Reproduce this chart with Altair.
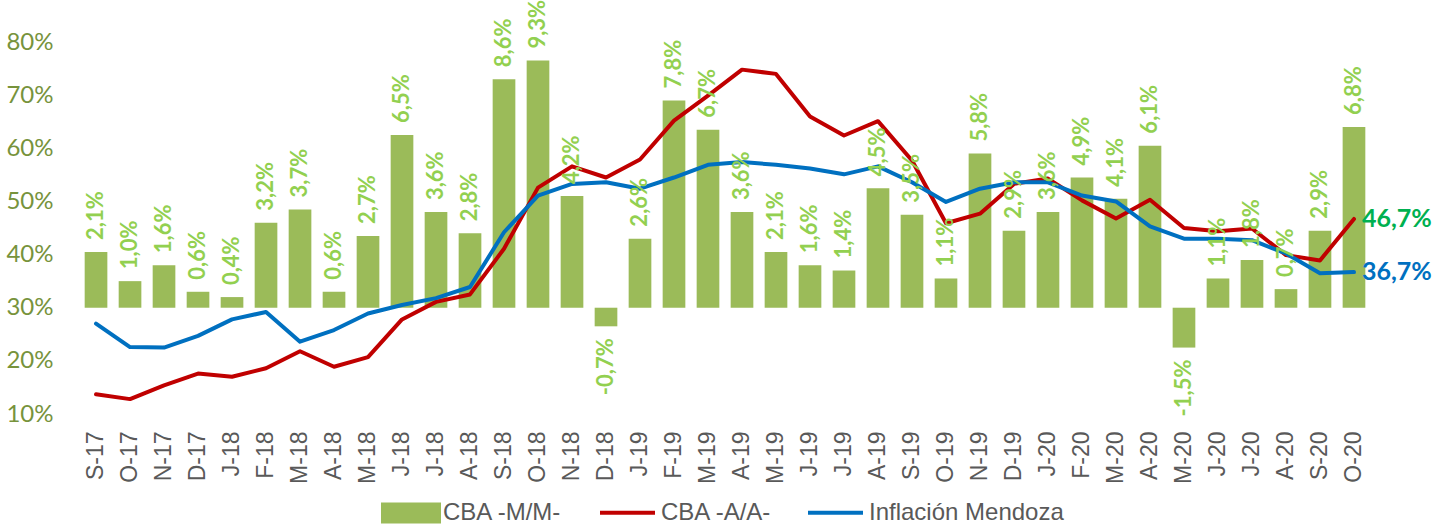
import altair as alt
import pandas as pd

cats = ['S-17','O-17','N-17','D-17','J-18','F-18','M-18','A-18','M-18','J-18','J-18','A-18',
        'S-18','O-18','N-18','D-18','J-19','F-19','M-19','A-19','M-19','J-19','J-19','A-19',
        'S-19','O-19','N-19','D-19','J-20','F-20','M-20','A-20','M-20','J-20','J-20','A-20',
        'S-20','O-20']
cba_mm = [2.1,1.0,1.6,0.6,0.4,3.2,3.7,0.6,2.7,6.5,3.6,2.8,8.6,9.3,4.2,-0.7,2.6,7.8,6.7,3.6,
          2.1,1.6,1.4,4.5,3.5,1.1,5.8,2.9,3.6,4.9,4.1,6.1,-1.5,1.1,1.8,0.7,2.9,6.8]
cba_aa = [13.7,12.8,15.4,17.6,17.0,18.6,21.8,18.9,20.7,27.8,31.1,32.5,41.1,52.6,56.6,54.5,57.9,
          65.2,69.9,74.8,74.0,66.0,62.4,65.1,57.7,45.9,47.7,53.3,54.3,50.2,46.8,50.3,45.0,44.4,
          44.9,39.9,38.9,46.7]
infl = [27.0,22.6,22.5,24.7,27.8,29.2,23.6,25.8,28.9,30.5,31.8,33.9,44.2,51.1,53.3,53.6,52.4,
        54.5,56.9,57.4,56.9,56.2,55.1,56.6,53.6,49.9,52.4,53.6,53.6,51.1,50.0,45.3,43.0,43.0,
        42.7,40.2,36.5,36.7]

S_MM = 'CBA -M/M-'
S_AA = 'CBA -A/A-'
S_INF = 'Inflación Mendoza'

df = pd.DataFrame({'idx': list(range(len(cats))), 'cat': cats, 'mm': cba_mm,
                   S_AA: cba_aa, S_INF: infl})

label_arr = "[" + ",".join("'" + c + "'" for c in cats) + "]"

x_enc = alt.X('idx:O', title=None,
              scale=alt.Scale(paddingInner=0.333, paddingOuter=0.167),
              axis=alt.Axis(labelExpr=label_arr + "[datum.value]", labelAngle=270,
                            labelFont='Liberation Sans', labelFontSize=23,
                            labelColor='#595959', labelPadding=17, ticks=False,
                            domain=False, grid=False))

bar_scale = alt.Scale(domain=[-4, 10], nice=False, zero=False)
line_scale = alt.Scale(domain=[10, 80], nice=False, zero=False)

base = alt.Chart(df)

LEG_Y = 441

bars = base.transform_calculate(serie="'" + S_MM + "'").mark_bar(color='#9BBB59').encode(
    x=x_enc,
    y=alt.Y('mm:Q', scale=bar_scale, axis=None),
    y2=alt.datum(0),
    color=alt.Color('serie:N', scale=alt.Scale(domain=[S_MM], range=['#9BBB59']),
                    legend=alt.Legend(title=None, orient='none', legendX=302, legendY=LEG_Y,
                                      symbolType='M-1,-0.35L1,-0.35L1,0.35L-1,0.35Z',
                                      symbolSize=3600, symbolStrokeWidth=0,
                                      symbolOpacity=1, labelOffset=2, padding=0,
                                      labelLimit=400,
                                      labelFont='Liberation Sans', labelFontSize=24,
                                      labelColor='#595959'))
)

lbl_calc = "replace(replace(format(datum.mm, '.1f'), '.', ','), '\u2212', '-') + '%'"

pos_lbl = base.transform_filter('datum.mm >= 0').transform_calculate(lbl=lbl_calc).mark_text(
    angle=270, align='left', baseline='middle', dx=12, font='Lato', fontWeight='bold',
    fontSize=22, color='#92D050').encode(
    x=alt.X('idx:O'), y=alt.Y('mm:Q', scale=bar_scale, axis=None), text='lbl:N')

neg_lbl = base.transform_filter('datum.mm < 0').transform_calculate(lbl=lbl_calc).mark_text(
    angle=270, align='right', baseline='middle', dx=-12, font='Lato', fontWeight='bold',
    fontSize=22, color='#92D050').encode(
    x=alt.X('idx:O'), y=alt.Y('mm:Q', scale=bar_scale, axis=None), text='lbl:N')

folded = base.transform_fold([S_AA, S_INF], as_=['serie', 'val'])

lines = folded.mark_line(strokeWidth=4, strokeJoin='round', strokeCap='round').encode(
    x=alt.X('idx:O'),
    y=alt.Y('val:Q', scale=line_scale,
            axis=alt.Axis(orient='left', values=[10, 20, 30, 40, 50, 60, 70, 80],
                          labelExpr="datum.value + '%'", labelFont='Lato', labelFontSize=24,
                          labelColor='#77933C', labelPadding=26, ticks=False, domain=False,
                          grid=False, title=None)),
    color=alt.Color('serie:N', scale=alt.Scale(domain=[S_AA, S_INF], range=['#C00000', '#0070C0']),
                    legend=alt.Legend(title=None, orient='none', legendX=519, legendY=LEG_Y,
                                      direction='horizontal', symbolType='stroke',
                                      symbolSize=3025, symbolStrokeWidth=4, columnPadding=28,
                                      labelOffset=4, padding=0, labelLimit=400,
                                      labelFont='Liberation Sans', labelFontSize=24,
                                      labelColor='#595959')),
    detail='serie:N'
)

end_aa = base.transform_filter('datum.idx == %d' % (len(cats) - 1)).transform_calculate(
    lbl="replace(format(datum['" + S_AA + "'], '.1f'), '.', ',') + '%'").mark_text(
    align='left', baseline='middle', dx=8, font='Lato', fontWeight='bold', fontSize=25,
    color='#00B050').encode(
    x=alt.X('idx:O'), y=alt.Y(S_AA + ':Q', scale=line_scale, axis=None), text='lbl:N')

end_inf = base.transform_filter('datum.idx == %d' % (len(cats) - 1)).transform_calculate(
    lbl="replace(format(datum['" + S_INF + "'], '.1f'), '.', ',') + '%'").mark_text(
    align='left', baseline='middle', dx=8, font='Lato', fontWeight='bold', fontSize=25,
    color='#0070C0').encode(
    x=alt.X('idx:O'), y=alt.Y(S_INF + ':Q', scale=line_scale, axis=None), text='lbl:N')

chart = alt.layer(bars, lines, pos_lbl, neg_lbl, end_aa, end_inf).resolve_scale(
    y='independent', color='independent'
).properties(
    width=1292, height=372,
    autosize=alt.AutoSizeParams(type='none'),
    padding={'left': 79, 'top': 42, 'right': 79, 'bottom': 110}
).configure_view(stroke=None)

chart.save("out.html", embed_options={"renderer": "svg", "actions": False})
